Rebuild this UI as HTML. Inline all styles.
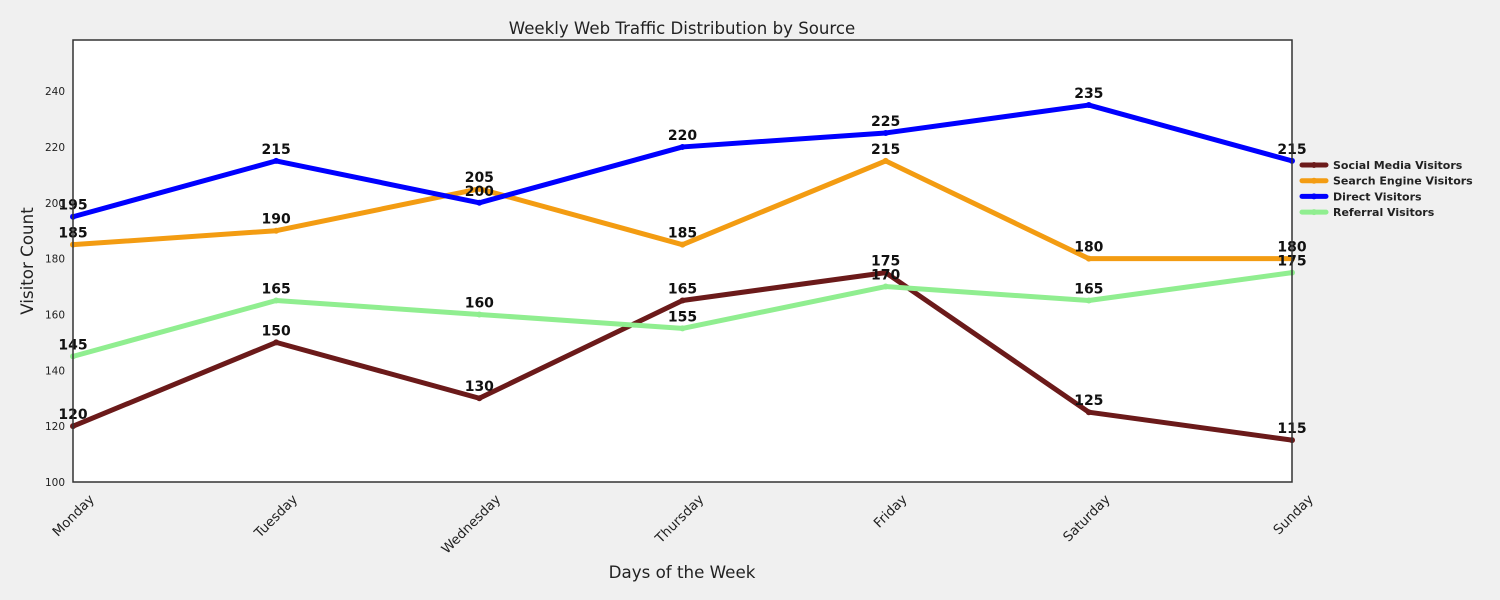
<!DOCTYPE html>
<html><head><meta charset="utf-8"><style>
body{margin:0;background:#f0f0f0;}
svg{display:block;font-family:"DejaVu Sans","Liberation Sans",sans-serif;}
</style></head><body>
<svg id="chart" width="1500" height="600">
<rect width="1500" height="600" fill="#f0f0f0"/>
<rect x="73" y="40" width="1219" height="442" fill="#fff"/>
<g id="marks"></g>
<rect x="73" y="40" width="1219" height="442" fill="none" stroke="#333" stroke-width="1.5"/>
<text x="682" y="34" text-anchor="middle" font-size="16.6" fill="#222">Weekly Web Traffic Distribution by Source</text>
<text x="682" y="578" text-anchor="middle" font-size="16.7" fill="#222">Days of the Week</text>
<text transform="translate(33,261) rotate(-90)" text-anchor="middle" font-size="16.7" fill="#222">Visitor Count</text>
<g id="legend"></g>
</svg>
<script>
const days=["Monday","Tuesday","Wednesday","Thursday","Friday","Saturday","Sunday"];
const social=[120,150,130,165,175,125,115];
const search=[185,190,205,185,215,180,180];
const direct=[195,215,200,220,225,235,215];
const referral=[145,165,160,155,170,165,175];
const yTicks=[100,120,140,160,180,200,220,240];
const seriesNames=["Social Media Visitors","Search Engine Visitors","Direct Visitors","Referral Visitors"];
const NS="http://www.w3.org/2000/svg";
const x=i=>73+i*(1219/(days.length-1));
const y=v=>482-(v-100)*(442/158.3);
const svg=document.getElementById('chart'),g=document.getElementById('marks'),lg=document.getElementById('legend');
function mk(t,a,p){const e=document.createElementNS(NS,t);for(const k in a)e.setAttribute(k,a[k]);(p||svg).appendChild(e);return e;}
yTicks.forEach(v=>{const t=mk('text',{x:65,y:y(v)+4,'text-anchor':'end','font-size':10.5,fill:'#222'});


t.textContent=v;});
days.forEach((d,i)=>{const t=mk('text',{transform:`translate(${x(i)+22},${500}) rotate(-45)`,'text-anchor':'end','font-size':13.3,fill:'#222'});


t.textContent=d;});
const data=[social,search,direct,referral];
const colors=["#6b1a1a","#f39c12","#0000ff","#90ee90"];
const keys=["social-media","search-engine","direct","referral"];
data.forEach((s,k)=>{
 const p=mk('polyline',{points:s.map((v,i)=>x(i)+','+y(v)).join(' '),fill:'none',stroke:colors[k],'stroke-width':5,'stroke-linejoin':'round'},g);
 
 
 s.forEach((v,i)=>{const c=mk('circle',{cx:x(i),cy:y(v),r:3,fill:colors[k]},g);
  
  
  const t=mk('text',{x:x(i),y:y(v)-7,'text-anchor':'middle','font-size':14,'font-weight':'bold',fill:'#111'},g);
  
  
  t.textContent=v;});
 const ly=165+k*15.7;
 const l=mk('line',{x1:1302,x2:1326,y1:ly,y2:ly,stroke:colors[k],'stroke-width':5,'stroke-linecap':'round'},lg);
 
 
 mk('circle',{cx:1314,cy:ly,r:3,fill:colors[k]},lg);
 const t=mk('text',{x:1333,y:ly+4,'font-size':11,'font-weight':'bold',fill:'#222'},lg);
 
 
 t.textContent=seriesNames[k];
});
</script>
</body></html>
